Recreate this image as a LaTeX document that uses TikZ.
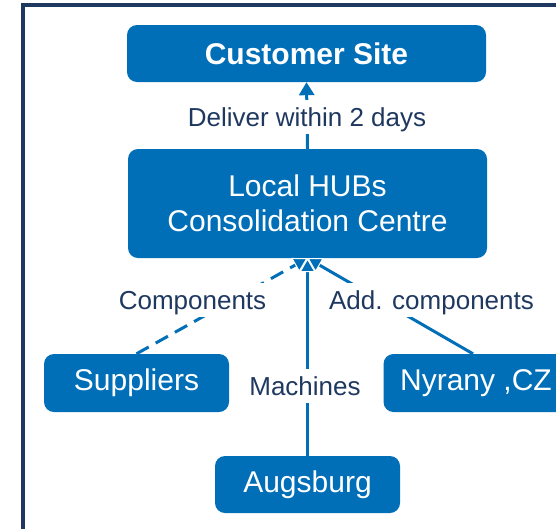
\documentclass[tikz,border=0pt]{standalone}
\usepackage{fontspec}
\setmainfont{Liberation Sans}
\usetikzlibrary{arrows.meta}
\definecolor{boxblue}{RGB}{0,111,184}
\definecolor{navytext}{RGB}{31,56,96}

\begin{document}
\begin{tikzpicture}[x=1pt, y=-1pt,
    box/.style={fill=boxblue, rounded corners=10pt, text=white, inner sep=0pt, align=center,
        minimum width=185pt, minimum height=58pt, font=\fontsize{30}{35}\selectfont},
    flow/.style={boxblue, line width=3pt, -{Triangle[length=13pt, width=15pt]}},
    feed/.style={boxblue, line width=3pt,
        -{Triangle[length=14pt, width=16pt, fill=boxblue, color=white, line width=1pt]}},
    lbl/.style={fill=white, text=navytext, inner xsep=2pt, inner ysep=8pt,
        text height=18.6pt, text depth=0pt, font=\fontsize{26}{30}\selectfont}]
    \useasboundingbox (0,0) rectangle (556,528);

    % Frame
    \draw[navytext, line width=4pt] (560,5.3) -- (22.7,5.3) -- (22.7,532);

    % Boxes
    \node[box, minimum width=359pt, minimum height=57pt,
        font=\bfseries\fontsize{30}{35}\selectfont] (cust) at (306.5,53.5) {Customer Site};
    \node[box, minimum width=359pt, minimum height=109pt] (hub) at (307.5,203.5)
        {Local HUBs\\Consolidation Centre};
    \node[box] (sup) at (136.5,383) {Suppliers};
    \node[box] (nyr) at (476,383) {Nyrany ,CZ};
    \node[box, minimum height=57pt] (aug) at (307.5,484.5) {Augsburg};

    % Connectors
    \draw[flow] (hub.north) -- (cust.south);
    \draw[feed, dash pattern=on 14pt off 8pt] (sup.north) -- (hub.south);
    \draw[feed] ([xshift=-3pt]nyr.north) -- (hub.south);
    \draw[feed] (aug.north) -- (hub.south);

    % Labels
    \node[lbl] (deliver) at (307,117) {Deliver within 2 days};
    \node[lbl] (comp) at (192.5,300) {Components};
    \node[lbl] (addcomp) at (431.5,300) {Add. components};
    \node[lbl] (mach) at (305,386) {Machines};
\end{tikzpicture}
\end{document}
